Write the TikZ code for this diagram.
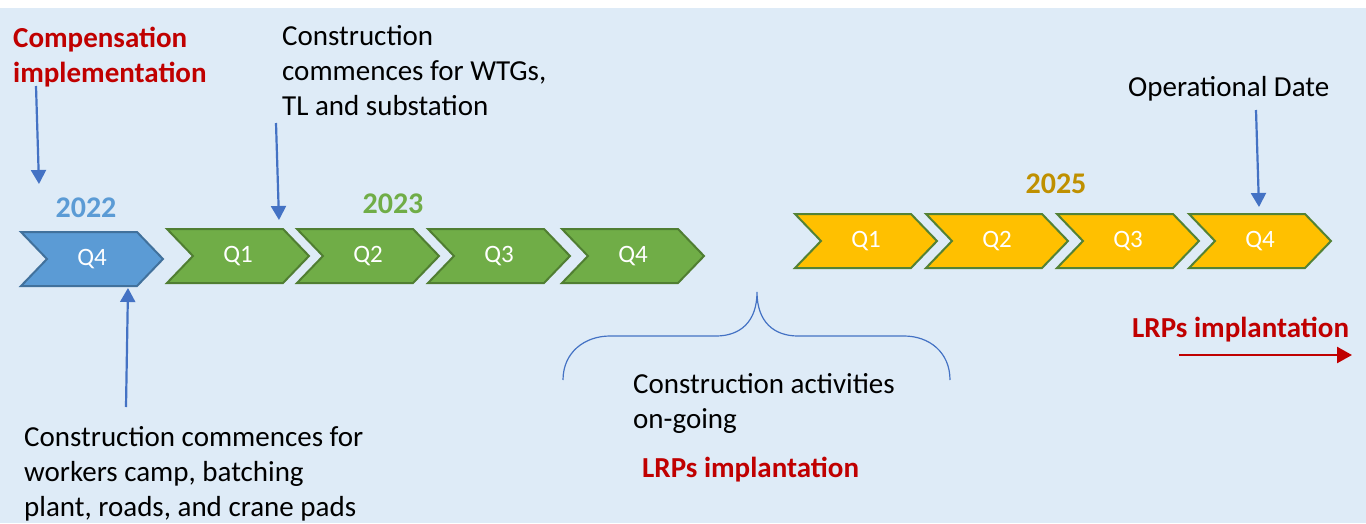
\documentclass[tikz,border=0pt]{standalone}
\usepackage{fontspec}
\setmainfont{Carlito}
\usetikzlibrary{arrows.meta}
\definecolor{bg}{HTML}{DEEBF7}
\definecolor{qblue}{HTML}{5B9BD5}
\definecolor{qblueline}{HTML}{41719C}
\definecolor{qgreen}{HTML}{70AD47}
\definecolor{qgreenline}{HTML}{507E32}
\definecolor{qyellow}{HTML}{FFC000}
\definecolor{qyellowline}{HTML}{548235}
\definecolor{arrowblue}{HTML}{4472C4}
\definecolor{darkred}{HTML}{C00000}
\definecolor{gold}{HTML}{BF9000}
\newcommand{\chevshape}[6]{%
  \draw[chevbox, fill=#3, draw=#4] (#1,#2) -- ++(116,0) -- ++(26,27) -- ++(-26,27) -- ++(-116,0) -- ++(26,-27) -- cycle;
  \node[qlabel] (#6) at (#1+71,#2+27) {#5};%
}
\tikzset{
  chevbox/.style={line width=2pt, line join=miter},
  qlabel/.style={text=white, font=\fontsize{25}{30}\selectfont, inner sep=0pt},
  yearlabel/.style={font=\fontsize{30}{36}\selectfont\bfseries, inner sep=0pt},
  note/.style={font=\fontsize{29}{35}\selectfont, align=left, anchor=base west, inner sep=0pt, text=black},
  rednote/.style={note, text=darkred, font=\fontsize{29}{35}\selectfont\bfseries},
  pointer/.style={draw=arrowblue, line width=2.2pt, -{Triangle[length=14pt,width=15pt]}, arrowblue},
  redarrow/.style={draw=darkred, line width=2.5pt, -{Triangle[length=15pt,width=16pt]}, darkred},
  bracestyle/.style={draw=arrowblue, line width=1.2pt},
}
\begin{document}
\begin{tikzpicture}[x=1pt,y=-1pt]
\useasboundingbox (0,0) rectangle (1366,523);
\fill[white] (0,0) rectangle (1366,523);
\fill[bg] (0,8) rectangle (1366,523);

% chevrons
\chevshape{21}{232}{qblue}{qblueline}{Q4}{b4}
\chevshape{167}{229}{qgreen}{qgreenline}{Q1}{g1}
\chevshape{297}{229}{qgreen}{qgreenline}{Q2}{g2}
\chevshape{428}{229}{qgreen}{qgreenline}{Q3}{g3}
\chevshape{562}{229}{qgreen}{qgreenline}{Q4}{g4}
\chevshape{795}{214}{qyellow}{qyellowline}{Q1}{y1}
\chevshape{926}{214}{qyellow}{qyellowline}{Q2}{y2}
\chevshape{1057}{214}{qyellow}{qyellowline}{Q3}{y3}
\chevshape{1189}{214}{qyellow}{qyellowline}{Q4}{y4}

% years
\node[yearlabel, text=qblue] (yr22) at (86,208) {2022};
\node[yearlabel, text=qgreen] (yr23) at (393,204) {2023};
\node[yearlabel, text=gold] (yr25) at (1056,184) {2025};

% texts (anchor = baseline of last line)
\node[rednote] (comp) at (13,82) {Compensation\\implementation};
\node[note] (wtg) at (282,115) {Construction\\commences for WTGs,\\TL and substation};
\node[note] (opdate) at (1128,96) {Operational Date};
\node[note] (camp) at (24,516) {Construction commences for\\workers camp, batching\\plant, roads, and crane pads};
\node[note] (ongoing) at (633,428) {Construction activities\\on-going};
\node[rednote] (lrp1) at (642,477) {LRPs implantation};
\node[rednote] (lrp2) at (1132,337) {LRPs implantation};

% arrow coordinates
\coordinate (a1s) at (36,86);   \coordinate (a1e) at (39,184);
\coordinate (a2s) at (276,123); \coordinate (a2e) at (279,220);
\coordinate (a3s) at (126,407); \coordinate (a3e) at (128,288);
\coordinate (a4s) at (1256,110); \coordinate (a4e) at (1259,207);
\coordinate (r1s) at (1179,355); \coordinate (r1e) at (1352,355);

\draw[pointer] (a1s) -- (a1e);
\draw[pointer] (a2s) -- (a2e);
\draw[pointer] (a3s) -- (a3e);
\draw[pointer] (a4s) -- (a4e);
\draw[redarrow] (r1s) -- (r1e);

% brace
\coordinate (brL) at (563,380);
\coordinate (brM) at (757,292);
\coordinate (brR) at (950,380);
\draw[bracestyle] (brL) .. controls (563,352) and (585,336) .. (610,336)
  -- (716,336) .. controls (740,336) and (757,322) .. (brM)
  .. controls (757,322) and (774,336) .. (798,336)
  -- (904,336) .. controls (929,336) and (950,352) .. (brR);
\end{tikzpicture}
\end{document}
